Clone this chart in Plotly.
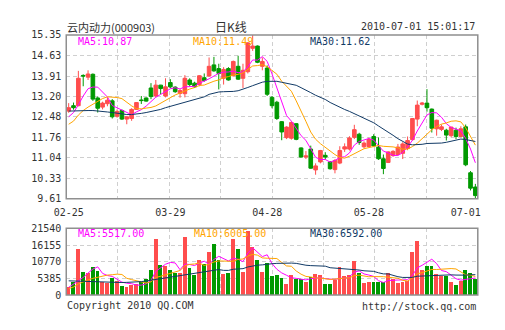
import plotly.graph_objects as go

# ---- daily K-line data (云内动力 000903) ----
opens = [12.68, 12.87, 12.87, 13.93, 13.87, 13.97, 13.14, 12.82, 12.94, 13.04,
         12.50, 12.70, 12.40, 12.42, 12.74, 13.07, 13.14, 13.49, 13.21, 13.59,
         13.21, 13.68, 13.52, 13.30, 13.29, 13.77, 13.66, 13.61, 13.85, 13.91,
         14.30, 14.17, 13.83, 14.17, 13.92, 14.25, 13.83, 14.06, 14.88, 14.96,
         14.25, 14.19, 13.16, 12.99, 12.31, 11.75, 11.73, 12.24, 11.39, 11.07,
         11.35, 10.62, 10.90, 11.13, 10.90, 10.63, 10.86, 11.35, 11.35, 11.76,
         11.87, 11.43, 11.44, 11.79, 11.42, 11.01, 10.88, 11.12, 11.16, 11.20,
         11.37, 11.68, 12.40, 12.92, 12.96, 12.75, 12.06, 12.04, 12.01, 11.82,
         12.01, 11.79, 12.13, 10.52, 10.02]
highs = [12.96, 12.98, 14.09, 13.97, 14.11, 14.00, 13.19, 13.01, 13.16, 13.10,
         12.74, 12.74, 12.50, 12.78, 12.99, 13.21, 13.16, 13.66, 13.77, 13.60,
         13.83, 13.80, 13.55, 13.45, 13.94, 13.83, 13.71, 13.94, 14.00, 14.56,
         14.58, 14.34, 14.22, 14.22, 14.45, 14.62, 14.34, 15.10, 15.35, 14.98,
         14.56, 14.28, 13.21, 13.04, 12.33, 12.15, 12.32, 12.26, 11.41, 11.28,
         11.47, 10.85, 11.32, 11.24, 10.93, 11.00, 11.45, 11.55, 11.80, 12.20,
         11.92, 11.62, 11.75, 11.87, 11.76, 11.16, 11.27, 11.31, 11.53, 11.59,
         11.79, 12.44, 13.05, 13.00, 13.45, 12.77, 12.38, 12.21, 12.06, 12.13,
         12.10, 12.15, 12.21, 10.58, 10.13]
lows = [12.62, 12.73, 12.85, 13.55, 13.77, 13.04, 12.63, 12.74, 12.85, 12.42,
        12.45, 12.37, 12.22, 12.34, 12.72, 12.93, 13.01, 13.10, 13.16, 13.27,
        13.16, 13.48, 13.32, 13.15, 13.16, 13.55, 13.49, 13.55, 13.71, 13.89,
        14.06, 13.44, 13.61, 13.75, 13.89, 13.77, 13.49, 14.00, 14.79, 14.36,
        14.11, 13.21, 12.78, 12.37, 11.66, 11.70, 11.68, 11.66, 11.05, 11.00,
        10.66, 10.45, 10.85, 10.98, 10.63, 10.50, 10.82, 11.25, 11.30, 11.70,
        11.50, 11.38, 11.40, 11.42, 10.97, 10.47, 10.86, 11.08, 11.14, 11.00,
        11.31, 11.65, 12.15, 12.88, 12.66, 11.93, 11.82, 11.98, 11.65, 11.76,
        11.70, 11.76, 10.75, 9.90, 9.59]
closes = [12.80, 12.80, 13.83, 13.91, 13.98, 13.10, 12.78, 12.96, 13.06, 12.48,
          12.67, 12.40, 12.48, 12.74, 12.98, 13.05, 13.03, 13.19, 13.59, 13.47,
          13.53, 13.53, 13.36, 13.40, 13.83, 13.61, 13.53, 13.92, 13.75, 14.25,
          14.09, 14.00, 14.14, 13.77, 14.42, 13.80, 14.11, 15.07, 14.96, 14.39,
          14.42, 13.27, 12.87, 12.42, 11.95, 12.12, 12.28, 11.69, 11.07, 11.11,
          10.68, 10.76, 11.30, 11.07, 10.66, 10.95, 11.30, 11.43, 11.74, 12.03,
          11.58, 11.56, 11.69, 11.46, 11.01, 10.67, 11.25, 11.27, 11.42, 11.53,
          11.65, 12.42, 12.89, 12.96, 12.80, 12.08, 12.36, 12.13, 11.84, 12.12,
          11.79, 12.06, 10.80, 9.98, 9.72]
volumes = [2480, 4050, 14820, 7290, 6970, 8860, 7600, 4260, 3850, 5520,
           4370, 2900, 2590, 3010, 3320, 4260, 5000, 7930, 17850, 9590,
           9380, 7930, 7090, 6970, 18690, 8650, 6240, 11060, 10010, 13780,
           16400, 11270, 6660, 6970, 18060, 14820, 7390, 20480, 15450, 11370,
           7390, 10320, 6200, 6400, 5450, 3580, 6400, 5150, 5150, 4200,
           5600, 6700, 6400, 3580, 3580, 4907, 8807, 5907, 6307, 11057,
           7007, 3847, 4107, 4107, 4107, 4107, 7007, 5107, 3957, 4257,
           4557, 13837, 17407, 7977, 9337, 9347, 6717, 6217, 6217, 3967,
           3253, 4433, 7903, 6913, 5083]

# moving-average values before each window is complete (earlier sessions)
ma5_head = [12.48, 12.63, 12.90, 13.21]
ma10_head = [12.22, 12.33, 12.54, 12.70, 12.82, 12.93, 13.04, 13.12, 13.18]
ma30_head = [12.68, 12.69, 12.70, 12.70, 12.70, 12.70, 12.69, 12.67, 12.65, 12.63,
             12.60, 12.57, 12.56, 12.56, 12.57, 12.60, 12.63, 12.66, 12.70, 12.74,
             12.80, 12.85, 12.90, 12.95, 12.99, 13.03, 13.08, 13.13, 13.18]
vma5_head = [2500, 3500, 4600, 5700]
vma10_head = [2100, 2600, 3600, 4300, 4900, 5400, 5800, 6200, 6450]
vma30_head = [4600, 4550, 4500, 4450, 4400, 4360, 4300, 4200, 4100, 4000,
              4000, 4050, 4100, 4150, 4250, 4350, 4550, 4800, 5000, 5200,
              5450, 5700, 5900, 6100, 6300, 6550, 6800, 7050, 7300]

date_labels = ["02-25", "03-29", "04-28", "05-28", "07-01"]
date_pos = [0, 21, 41, 62, 82]
price_labels = ["15.35", "14.63", "13.91", "13.20", "12.48", "11.76", "11.04", "10.33", "9.61"]
vol_labels = ["21540", "16155", "10770", "5385", "0"]

stock_title = "云内动力(000903)"
chart_kind = "日K线"
timestamp = "2010-07-01 15:01:17"


def moving_average(values, n, head):
    out = list(head)
    for i in range(len(head), len(values)):
        out.append(sum(values[i - n + 1:i + 1]) / n)
    return out


n = len(closes)
xs = list(range(n))
ma5 = moving_average(closes, 5, ma5_head)
ma10 = moving_average(closes, 10, ma10_head)
ma30 = moving_average(closes, 30, ma30_head)
vma5 = moving_average(volumes, 5, vma5_head)
vma10 = moving_average(volumes, 10, vma10_head)
vma30 = moving_average(volumes, 30, vma30_head)

UP = "#ff4d4d"
DOWN = "#009900"
C5 = "#ff00ff"
C10 = "#ffa500"
C30 = "#113a66"
GRID = "#cfcfcf"
TXT = "#333333"
MONO = "DejaVu Sans Mono"
CJK = "Noto Sans CJK SC"
W, H = 505, 330

fig = go.Figure()
fig.add_trace(go.Candlestick(
    x=xs, open=opens, high=highs, low=lows, close=closes,
    increasing=dict(line=dict(color=UP, width=1), fillcolor=UP),
    decreasing=dict(line=dict(color=DOWN, width=1), fillcolor=DOWN),
    whiskerwidth=0, hoverinfo="skip", xaxis="x", yaxis="y"))
for vals, col in ((ma5, C5), (ma10, C10), (ma30, C30)):
    fig.add_trace(go.Scatter(x=xs, y=vals, mode="lines", line=dict(color=col, width=1),
                             hoverinfo="skip", xaxis="x", yaxis="y"))

bar_colors = [UP if c >= o else DOWN for o, c in zip(opens, closes)]
fig.add_trace(go.Bar(x=xs, y=volumes, marker=dict(color=bar_colors, line=dict(width=0)),
                     width=0.8, hoverinfo="skip", xaxis="x2", yaxis="y2"))
for vals, col in ((vma5, C5), (vma10, C10), (vma30, C30)):
    fig.add_trace(go.Scatter(x=xs, y=vals, mode="lines", line=dict(color=col, width=1),
                             hoverinfo="skip", xaxis="x2", yaxis="y2"))

x_dom = [55 / W, 480 / W]
minor_grid = dict(tick0=-0.5, dtick=n / 8, showgrid=True, gridcolor=GRID,
                  griddash="4px,3px", gridwidth=1, ticks="")
tickfont = dict(family=MONO, size=10, color=TXT)

fig.update_layout(
    width=W, height=H, margin=dict(l=0, r=0, t=0, b=0),
    paper_bgcolor="white", plot_bgcolor="white", showlegend=False,
    boxgap=0.25, boxgroupgap=0, bargap=0,
    xaxis=dict(domain=x_dom, range=[-0.5, n - 0.5], anchor="y", showgrid=False,
               zeroline=False, tickvals=date_pos, ticktext=date_labels, ticks="",
               tickfont=tickfont, ticklabelstandoff=6, minor=minor_grid,
               rangeslider=dict(visible=False), fixedrange=True),
    yaxis=dict(domain=[130 / H, 300 / H], range=[9.61, 15.35], anchor="x",
               tickvals=[float(t) for t in price_labels], ticktext=price_labels,
               showgrid=True, gridcolor=GRID, griddash="4px,3px", zeroline=False,
               ticks="", tickfont=tickfont, ticklabelstandoff=4),
    xaxis2=dict(domain=x_dom, range=[-0.5, n - 0.5], anchor="y2", showgrid=False,
                zeroline=False, showticklabels=False, ticks="", minor=minor_grid),
    yaxis2=dict(domain=[30 / H, 99.3 / H], range=[0, 21540], anchor="x2",
                tickvals=[float(t) for t in vol_labels], ticktext=vol_labels,
                showgrid=True, gridcolor=GRID, griddash="4px,3px", zeroline=False,
                ticks="", tickfont=tickfont, ticklabelstandoff=4),
)

# panel frames
for xr, yr in (("x domain", "y domain"), ("x2 domain", "y2 domain")):
    fig.add_shape(type="rect", xref=xr, yref=yr, x0=0, x1=1, y0=0, y1=1,
                  line=dict(color="#8f8f8f", width=1.5), layer="above")


def label(text, x, y, color=TXT, anchor="left", family=MONO, size=10):
    fig.add_annotation(text=text, x=x / W, y=1 - y / H, xref="paper", yref="paper",
                       xanchor=anchor, yanchor="middle", showarrow=False,
                       font=dict(family=family, size=size, color=color))


label(stock_title, 54, 21.5, family=CJK, size=11)
label(chart_kind, 225, 21.5, anchor="center", family=CJK, size=12)
label(timestamp, 479, 21.5, anchor="right")

label(f"MA5:{ma5[-1]:.2f}", 65, 36.5, color=C5)
label(f"MA10:{ma10[-1]:.2f}", 184, 36.5, color=C10)
label(f"MA30:{ma30[-1]:.2f}", 305, 36.5, color=C30)

label(f"MA5:{vma5[-1]:.2f}", 65, 236, color=C5)
label(f"MA10:{vma10[-1]:.2f}", 185, 236, color=C10)
label(f"MA30:{vma30[-1]:.2f}", 305, 236, color=C30)

label("Copyright 2010 QQ.COM", 54, 311)
label("http://stock.qq.com", 480, 312, anchor="right")

fig.write_html("out.html")
